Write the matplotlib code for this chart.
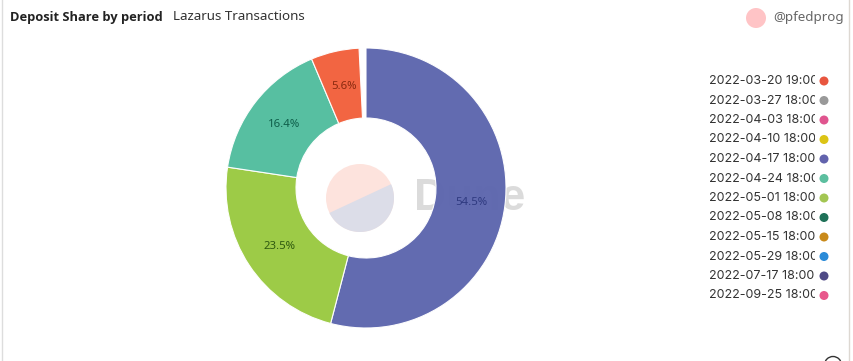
import numpy as np
import matplotlib
matplotlib.use("Agg")
import matplotlib.pyplot as plt
from matplotlib.patches import Circle, Wedge, Rectangle

W, H = 854, 361
periods = ["2022-03-20 19:00", "2022-03-27 18:00", "2022-04-03 18:00", "2022-04-10 18:00",
           "2022-04-17 18:00", "2022-04-24 18:00", "2022-05-01 18:00", "2022-05-08 18:00",
           "2022-05-15 18:00", "2022-05-29 18:00", "2022-07-17 18:00", "2022-09-25 18:00"]
legend_colors = ["#e8563f", "#999999", "#e0558f", "#dcc415", "#6263ad", "#5cbf9f",
                 "#a3c653", "#1f7158", "#c98a1a", "#2b8bd8", "#4f4a86", "#e8588c"]
slice_values = [54.5, 23.5, 16.4, 5.6]
slice_text = ["54.5%", "23.5%", "16.4%", "5.6%"]
slice_colors = ["#5d66ae", "#9aca41", "#51bd9e", "#f2603c"]
label_colors = ["#2f3a80", "#2f5a10", "#0f5f4a", "#8a2a10"]
gap_share = 0.8

fig = plt.figure(figsize=(W / 100, H / 100), dpi=100)
ax = fig.add_axes([0, 0, 1, 1])
ax.set_xlim(0, W)
ax.set_ylim(H, 0)
ax.axis("off")
font = "Noto Sans"

# card border
ax.plot([2, 2], [0, H], color="#dddddd", lw=1)
ax.plot([849, 849], [0, H], color="#ddd8d2", lw=1)

# titles
ax.text(10, 17, "Deposit Share by period", fontsize=9.3, fontweight="bold", color="#222222",
        va="center", family="Open Sans")
ax.text(173, 17, "Lazarus Transactions", fontsize=9.6, color="#333333", va="center", family=font)
ax.add_patch(Circle((756, 18), 10, color="#ffc4c6", lw=0))
ax.text(773, 17, "@pfedprog", fontsize=9.6, color="#666666", va="center", family=font)

# watermark behind the donut
ax.add_patch(Circle((360, 198), 34, facecolor="#fde3dd", lw=0, zorder=1))
theta = np.linspace(np.radians(-24), np.radians(154), 60)
ax.fill(360 + 34 * np.cos(theta), 198 + 34 * np.sin(theta), color="#dcdde8", lw=0, zorder=1.1)
ax.text(414, 198, "Dune", fontsize=32, fontweight="bold", color="#808080", alpha=0.28,
        va="center", ha="left", family="Liberation Sans", zorder=1.2)

# donut
cx, cy, r_out, r_in = 366, 188, 140, 70
total = sum(slice_values) + gap_share
angle = 0.0
for val, col, txt, tcol in zip(slice_values, slice_colors, slice_text, label_colors):
    sweep = val / total * 360
    # y axis inverted: screen clockwise from the top
    w = Wedge((cx, cy), r_out, angle - 90, angle + sweep - 90, width=r_out - r_in,
              facecolor=col, edgecolor="white", lw=0.8, alpha=0.97, zorder=2)
    ax.add_patch(w)
    mid = np.radians(angle + sweep / 2 - 90)
    rm = (r_out + r_in) / 2
    ax.text(cx + rm * np.cos(mid) + 1, cy + rm * np.sin(mid) + 1, txt, fontsize=8.2, color=tcol,
            ha="center", va="center", family=font, zorder=3)
    angle += sweep

# legend
ys = np.linspace(81, 295.5, len(periods))
for per, col, y in zip(periods, legend_colors, ys):
    t = ax.text(709, y, per, fontsize=9.0, color="#333333", va="center", family="Inter")
    t.set_clip_on(True)
    t.set_clip_path(Rectangle((700, y + 10), 115, -20, transform=ax.transData))
    ax.add_patch(Circle((824, y), 4.5, color=col, lw=0))

# info icon at the bottom edge
ax.add_patch(Circle((833, 365), 8.5, facecolor="white", edgecolor="#333333", lw=1))

fig.savefig("out.png", dpi=100)
